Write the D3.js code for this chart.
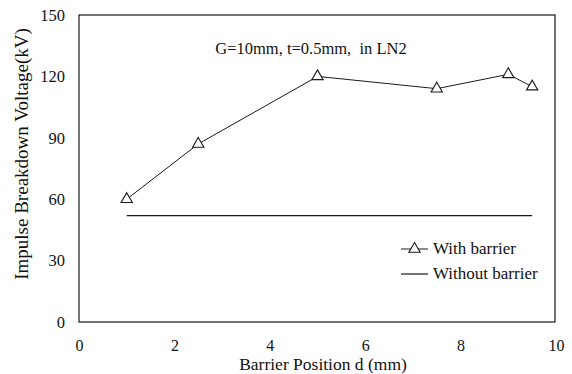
<!DOCTYPE html>
<html><head><meta charset="utf-8">
<script src="https://cdn.jsdelivr.net/npm/d3@7"></script>
<style>body{margin:0;background:#fff}svg{display:block}svg text{font-family:"Liberation Serif","DejaVu Serif",serif !important;fill:#111}</style>
</head><body><svg id="c" width="572" height="374"></svg>
<script>
const positions = [1, 2.5, 5, 7.5, 9, 9.5];
const withBarrier = [60, 87, 120, 114, 121, 115];
const withoutBarrierX = [1, 9.5];
const withoutBarrier = [52, 52];
const xTicks = [0, 2, 4, 6, 8, 10];
const yTicks = [0, 30, 60, 90, 120, 150];
const seriesNames = ["With barrier", "Without barrier"];
const note = "G=10mm, t=0.5mm,  in LN2";
const xTitle = "Barrier Position d (mm)";
const yTitle = "Impulse Breakdown Voltage(kV)";

const svg = d3.select("#c");
const L = 79, R = 555, T = 15, B = 322;
const x = d3.scaleLinear().domain([0, 10]).range([L, R + 1]);
const y = d3.scaleLinear().domain([0, 150]).range([B, T]);
const ink = "#1a1a1a";

svg.append("rect").attr("x", L).attr("y", T).attr("width", R - L).attr("height", B - T)
  .attr("fill", "none").attr("stroke", ink).attr("stroke-width", 1.2);

const xa = svg.append("g").attr("transform", `translate(0,${B})`)
  .call(d3.axisBottom(x).tickValues(xTicks).tickSize(0).tickPadding(17.5).tickFormat(d3.format("d")));
xa.select(".domain").remove();
xa.attr("font-family", null).selectAll("text").attr("font-size", 16).attr("fill", "#111");

const ya = svg.append("g").attr("transform", `translate(${L},0)`)
  .call(d3.axisLeft(y).tickValues(yTicks).tickSize(0).tickPadding(14).tickFormat(d3.format("d")));
ya.select(".domain").remove();
ya.attr("font-family", null).selectAll("text").attr("font-size", 16.5).attr("fill", "#111");

svg.append("text").attr("x", 323).attr("y", 370).attr("text-anchor", "middle")
  .attr("font-size", 17.5).text(xTitle);
svg.append("text").attr("transform", "translate(28,154) rotate(-90)").attr("text-anchor", "middle")
  .attr("font-size", 19).text(yTitle);

svg.append("text").attr("x", 311).attr("y", 54).attr("text-anchor", "middle")
  .attr("font-size", 16.5).style("white-space", "pre").text(note);

const line = d3.line().x(d => x(d[0])).y(d => y(d[1]));
svg.append("path").datum(withoutBarrierX.map((p, i) => [p, withoutBarrier[i]]))
  .attr("d", line).attr("fill", "none").attr("stroke", ink).attr("stroke-width", 1.2);
svg.append("path").datum(positions.map((p, i) => [p, withBarrier[i]]))
  .attr("d", line).attr("fill", "none").attr("stroke", ink).attr("stroke-width", 1);

const tri = d3.symbol().type(d3.symbolTriangle).size(55);
svg.selectAll(".m").data(positions.map((p, i) => [p, withBarrier[i]])).join("path")
  .attr("transform", d => `translate(${x(d[0])},${y(d[1])})`)
  .attr("d", tri).attr("fill", "#fff").attr("stroke", ink).attr("stroke-width", 1.1);

// legend
const lg = svg.append("g");
const lx = 401, ly = [249, 274];
lg.append("line").attr("x1", lx).attr("x2", lx + 27).attr("y1", ly[0]).attr("y2", ly[0]).attr("stroke", ink);
lg.append("path").attr("transform", `translate(${lx + 13.5},${ly[0]})`).attr("d", tri).attr("fill", "#fff").attr("stroke", ink).attr("stroke-width", 1.1);
lg.append("line").attr("x1", lx).attr("x2", lx + 27).attr("y1", ly[1]).attr("y2", ly[1]).attr("stroke", ink).attr("stroke-width", 1.2);
seriesNames.forEach((n, i) => lg.append("text").attr("x", 433).attr("y", ly[i] + 5).attr("font-size", 17).text(n));
</script></body></html>
